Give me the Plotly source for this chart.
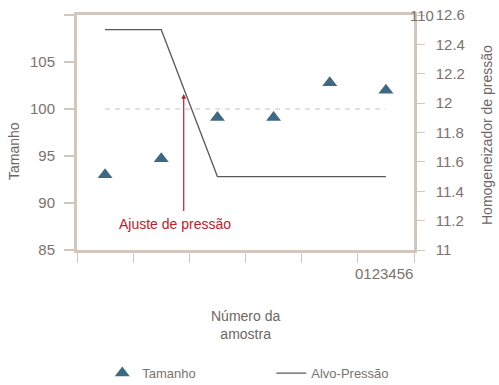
import plotly.graph_objects as go

# ---- data ----
sample_x = [0.5, 1.5, 2.5, 3.5, 4.5, 5.5]
tamanho = [93.0, 94.7, 99.1, 99.1, 102.8, 102.0]
alvo_pressao = [12.5, 12.5, 11.5, 11.5, 11.5, 11.5]
ref_x = [0.5, 5.5]
ref_y = [100, 100]
left_ticks = [85, 90, 95, 100, 105, 110]
left_labels = ["85", "90", "95", "100", "105", ""]
right_ticks = [11, 11.2, 11.4, 11.6, 11.8, 12, 12.2, 12.4, 12.6]
right_labels = ["11", "11.2", "11.4", "11.6", "11.8", "12", "12.2", "12.4", "12.6"]
x_ticks = [0, 1, 2, 3, 4, 5, 6]
arrow_x = 1.9
arrow_tail_y = 89.0
arrow_head_y = 101.6

FONT = "Liberation Sans, Arial, sans-serif"
AX = "#d2c7bf"
TXT = "#7b726d"
TTL = "#6e6663"

fig = go.Figure()
fig.add_trace(go.Scatter(
    x=sample_x, y=tamanho, mode="markers", name="Tamanho",
    marker=dict(symbol="triangle-up", size=13, color="#3f6982"),
    yaxis="y"))
fig.add_trace(go.Scatter(
    x=ref_x, y=ref_y, mode="lines", showlegend=False, hoverinfo="skip",
    line=dict(color="#c4c4c4", width=1.1, dash="5px,5px"), yaxis="y"))
fig.add_trace(go.Scatter(
    x=sample_x, y=alvo_pressao, mode="lines", name="Alvo-Pressão",
    line=dict(color="#5a5a5a", width=1.3), yaxis="y2"))

fig.update_layout(
    width=499, height=385,
    margin=dict(l=77, r=85, t=15, b=135, autoexpand=False),
    paper_bgcolor="white", plot_bgcolor="white",
    font=dict(family=FONT, color=TXT),
    xaxis=dict(range=[0, 6], tickvals=x_ticks, showticklabels=False,
               ticks="outside", ticklen=10, tickwidth=1, tickcolor=AX,
               showline=True, linecolor=AX, linewidth=3, mirror=True,
               showgrid=False, zeroline=False, automargin=False),
    yaxis=dict(range=[85, 110], tickvals=left_ticks, ticktext=left_labels,
               ticks="outside", ticklen=10, tickwidth=1.5, tickcolor=AX,
               showline=True, linecolor=AX, linewidth=3,
               showgrid=False, zeroline=False, automargin=False,
               tickfont=dict(size=15, color=TXT), ticklabelstandoff=6),
    yaxis2=dict(range=[11, 12.6], tickvals=right_ticks, ticktext=right_labels,
                overlaying="y", side="right",
                ticks="outside", ticklen=8, tickwidth=1, tickcolor=AX,
                showline=True, linecolor=AX, linewidth=2.5,
                showgrid=False, zeroline=False, automargin=False,
                tickfont=dict(size=15, color=TXT), ticklabelstandoff=8),
    legend=dict(orientation="h", x=0.075, xanchor="left", y=-0.46, yanchor="top",
                entrywidth=124, entrywidthmode="pixels",
                font=dict(size=13, color=TXT, family=FONT)),
    showlegend=True,
)

annotations = [
    dict(x=arrow_x, y=arrow_head_y, ax=arrow_x, ay=arrow_tail_y,
         xref="x", yref="y", axref="x", ayref="y", text="",
         showarrow=True, arrowhead=2, arrowsize=0.8, arrowwidth=1.2,
         arrowcolor="#b5222e"),
    dict(x=1.745, y=87.8, xref="x", yref="y", text="Ajuste de pressão",
         showarrow=False, font=dict(size=14, color="#c0202a", family=FONT)),
    dict(x=14, y=151, xref="paper", yref="paper", text="Tamanho",
         xanchor="center", yanchor="middle",
         showarrow=False, textangle=-90, font=dict(size=14, color=TTL)),
    dict(x=487, y=135, xref="paper", yref="paper", text="Homogeneizador de pressão",
         xanchor="center", yanchor="middle",
         showarrow=False, textangle=-90, font=dict(size=14, color=TTL)),
    dict(x=245, y=325, xref="paper", yref="paper", text="Número da<br>amostra",
         xanchor="center", yanchor="middle",
         showarrow=False, font=dict(size=14, color=TTL)),
    dict(x=436, y=15, xref="paper", yref="paper", text="110",
         xanchor="right", yanchor="middle",
         showarrow=False, font=dict(size=15, color=TXT)),
    dict(x=415, y=273, xref="paper", yref="paper", text="0123456",
         xanchor="right", yanchor="middle",
         showarrow=False, font=dict(size=15, color=TXT)),
]
# convert pixel positions to paper coords for the pixel-placed annotations
L, R, T, B = 77, 414, 15, 250
for a in annotations:
    if a.get("xref") == "paper":
        a["x"] = (a["x"] - L) / (R - L)
        a["y"] = (B - a["y"]) / (B - T)
fig.update_layout(annotations=annotations)

fig.write_html("out.html", config={"displayModeBar": False},
               post_script="document.body.style.margin='0';")
